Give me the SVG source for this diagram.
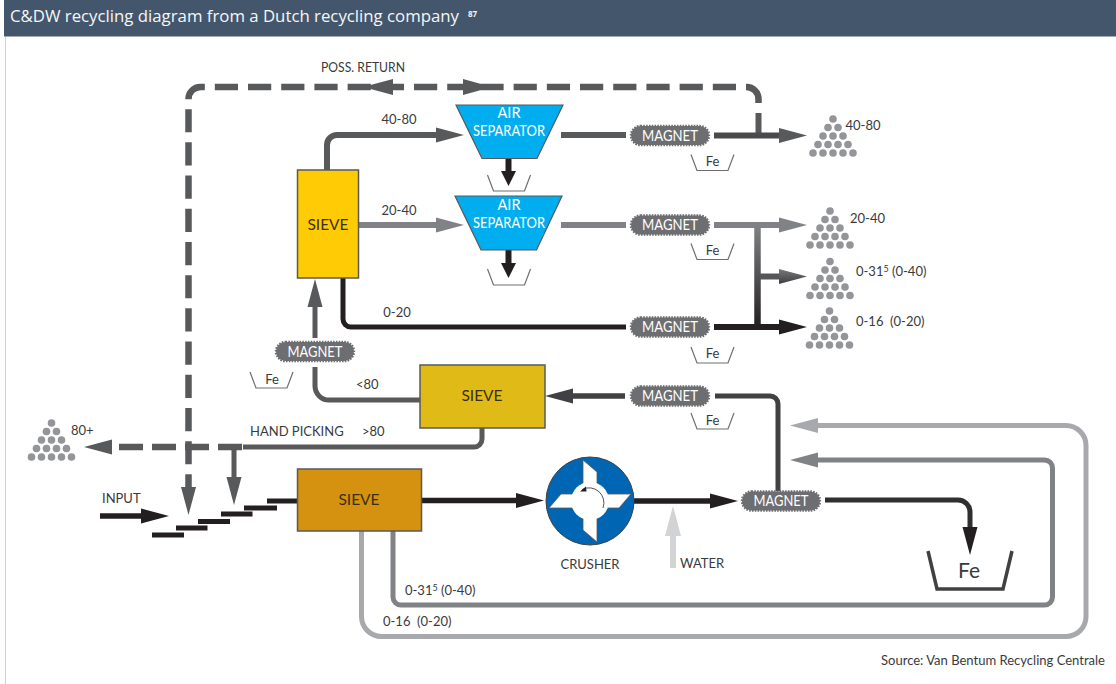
<svg xmlns="http://www.w3.org/2000/svg" width="1116" height="684" viewBox="0 0 1116 684">
<style>
text{font-family:"Lato","Open Sans","Liberation Sans",sans-serif;font-size:13px;fill:#3a3a3c}
.c{text-anchor:middle}
.w{fill:#fff}
.big{font-size:15.5px;fill:#3a3010}
.tall{font-size:14.5px;fill:#fff;text-anchor:middle}
.title{font-family:"Open Sans","Liberation Sans",sans-serif;font-size:17px;fill:#f4f6f8}
.ln{fill:none;stroke-linecap:butt;stroke-linejoin:round}
.mag{fill:#6d6e71;stroke:#6d6e71;stroke-width:2.4;stroke-dasharray:1.6 1.2}
.bin{fill:none;stroke:#6d6e71;stroke-width:1.2}
.box{stroke:#58595b;stroke-width:1.5}
.air{fill:#00aeef;stroke:#58595b;stroke-width:1.2}
.step{fill:#231f20}
</style>
<defs>
<marker id="hA" markerUnits="userSpaceOnUse" markerWidth="30" markerHeight="16" refX="0" refY="8" orient="auto"><path d="M0,0.5L28,8L0,15.5Z" fill="#58595b"/></marker>
<marker id="hB" markerUnits="userSpaceOnUse" markerWidth="30" markerHeight="16" refX="0" refY="8" orient="auto"><path d="M0,0.5L28,8L0,15.5Z" fill="#808285"/></marker>
<marker id="hK" markerUnits="userSpaceOnUse" markerWidth="30" markerHeight="16" refX="0" refY="8" orient="auto"><path d="M0,0.5L28,8L0,15.5Z" fill="#231f20"/></marker>
<marker id="hD" markerUnits="userSpaceOnUse" markerWidth="30" markerHeight="16" refX="0" refY="8" orient="auto"><path d="M0,0.5L28,8L0,15.5Z" fill="#414042"/></marker>
<marker id="hL" markerUnits="userSpaceOnUse" markerWidth="30" markerHeight="16" refX="0" refY="8" orient="auto"><path d="M0,0.5L28,8L0,15.5Z" fill="#a7a9ac"/></marker>
<marker id="hW" markerUnits="userSpaceOnUse" markerWidth="32" markerHeight="18" refX="0" refY="9" orient="auto"><path d="M0,1L30,9L0,17Z" fill="#d1d3d4"/></marker>
<marker id="hG" markerUnits="userSpaceOnUse" markerWidth="30" markerHeight="16" refX="0" refY="8" orient="auto"><path d="M0,0.5L28,8L0,15.5Z" fill="url(#gh)"/></marker>
<linearGradient id="gv" gradientUnits="userSpaceOnUse" x1="0" y1="225" x2="0" y2="327"><stop offset="0" stop-color="#808285"/><stop offset="1" stop-color="#231f20"/></linearGradient>
<linearGradient id="gh" x1="0" y1="0" x2="0" y2="1"><stop offset="0" stop-color="#77787b"/><stop offset="1" stop-color="#3f3f41"/></linearGradient>
<g id="pile" fill="#939598">
<circle cx="0" cy="0" r="3.8"/>
<circle cx="-5" cy="8.5" r="3.8"/><circle cx="5" cy="8.5" r="3.8"/>
<circle cx="-10" cy="17" r="3.8"/><circle cx="0" cy="17" r="3.8"/><circle cx="10" cy="17" r="3.8"/>
<circle cx="-15" cy="25.5" r="3.8"/><circle cx="-5" cy="25.5" r="3.8"/><circle cx="5" cy="25.5" r="3.8"/><circle cx="15" cy="25.5" r="3.8"/>
<circle cx="-20" cy="34" r="3.8"/><circle cx="-10" cy="34" r="3.8"/><circle cx="0" cy="34" r="3.8"/><circle cx="10" cy="34" r="3.8"/><circle cx="20" cy="34" r="3.8"/>
</g>
<path id="smallbin" class="bin" d="M0,0L6,16H37L43,0"/>
</defs>

<rect x="0" y="0" width="1116" height="684" fill="#fff"/>
<g id="header">
<rect x="4" y="0" width="1112" height="36.5" fill="#44566c"/>
<line x1="5.5" y1="37" x2="5.5" y2="684" stroke="#cfcfcf" stroke-width="1"/>
<text class="title" x="10" y="22" textLength="449" lengthAdjust="spacingAndGlyphs">C&amp;DW recycling diagram from a Dutch recycling company</text>
<text class="title" x="468" y="17" style="font-size:8px;font-weight:bold">87</text>
</g>

<g id="connectors" class="ln">
<path d="M758.500,103V99A12,12 0 0 0 746.500,87H200.500A12,12 0 0 0 188.500,99V487" stroke="#58595b" stroke-width="6.500" stroke-dasharray="23.2 10" marker-end="url(#hA)"/>
<path d="M363,87L393,79V95Z" fill="#58595b" stroke="none"/>
<path d="M492,87L463,79V95Z" fill="#58595b" stroke="none"/>
<path d="M758.500,113V135" stroke="#58595b" stroke-width="6"/>
<path d="M327,170V145A10,10 0 0 1 337,135H436" stroke="#58595b" stroke-width="6" marker-end="url(#hA)"/>
<path d="M358,225H436" stroke="#808285" stroke-width="6" marker-end="url(#hB)"/>
<path d="M343,278V319A8,8 0 0 0 351,327H626" stroke="#231f20" stroke-width="5"/>
<path d="M508.500,158V172" stroke="#231f20" stroke-width="6"/>
<path d="M508.500,250V264" stroke="#231f20" stroke-width="6"/>
<path d="M501,171H516L508.500,186Z" fill="#231f20" stroke="none"/>
<path d="M501,263H516L508.500,278Z" fill="#231f20" stroke="none"/>
<path d="M561,135H626" stroke="#58595b" stroke-width="6"/>
<path d="M714,135.500H779" stroke="#4a4a4c" stroke-width="6" marker-end="url(#hA)"/>
<path d="M561,225H626" stroke="#808285" stroke-width="6"/>
<path d="M714,225H779" stroke="#808285" stroke-width="6" marker-end="url(#hB)"/>
<path d="M714,327H779" stroke="#231f20" stroke-width="6" marker-end="url(#hK)"/>
<path d="M757.500,223V329" stroke="url(#gv)" stroke-width="6.500"/>
<path d="M760,276.500H779" stroke="#555658" stroke-width="6" marker-end="url(#hG)"/>
<path d="M625,396H573" stroke="#414042" stroke-width="5.500" marker-end="url(#hD)"/>
<path d="M715,396H770A8,8 0 0 1 778,404V491" stroke="#414042" stroke-width="5"/>
<path d="M420,400H329A14,14 0 0 1 315,386V367" stroke="#58595b" stroke-width="5"/>
<path d="M315,338V307" stroke="#58595b" stroke-width="5"/>
<path d="M307.500,307H322.500L315,279Z" fill="#58595b" stroke="none"/>
<path d="M482,428V439A8,8 0 0 1 474,447H243" stroke="#58595b" stroke-width="5"/>
<path d="M242,447H112" stroke="#58595b" stroke-width="6.500" stroke-dasharray="24 9" marker-end="url(#hA)"/>
<path d="M234,447V477" stroke="#58595b" stroke-width="5" marker-end="url(#hA)"/>
<path d="M100,516H141" stroke="#231f20" stroke-width="5.500" marker-end="url(#hK)"/>
<path d="M421,500.500H516" stroke="#231f20" stroke-width="5.500" marker-end="url(#hK)"/>
<path d="M634,501H710" stroke="#231f20" stroke-width="5.500" marker-end="url(#hK)"/>
<path d="M673,568V536" stroke="#d1d3d4" stroke-width="6" marker-end="url(#hW)"/>
<path d="M825,500H958A12,12 0 0 1 970,512V527" stroke="#2f2f31" stroke-width="5" marker-end="url(#hK)"/>
<path d="M393,531V597A8,8 0 0 0 401,605H1044.500A8,8 0 0 0 1052.500,597V468A8,8 0 0 0 1044.500,460H818" stroke="#808285" stroke-width="5" marker-end="url(#hB)"/>
<path d="M361.500,531V616.500A20,20 0 0 0 381.500,636.500H1066A20,20 0 0 0 1086,616.500V445.500A20,20 0 0 0 1066,425.500H818" stroke="#a7a9ac" stroke-width="5" marker-end="url(#hL)"/>
</g>

<g id="steps">
<rect class="step" x="152" y="532.500" width="32" height="5"/>
<rect class="step" x="176" y="525.500" width="31.500" height="5"/>
<rect class="step" x="198" y="519" width="32" height="5"/>
<rect class="step" x="221" y="511.500" width="31.500" height="5"/>
<rect class="step" x="244" y="505.500" width="33" height="5"/>
<rect class="step" x="267" y="498.500" width="30" height="5"/>
</g>

<g id="sieve-top"><rect class="box" x="297.500" y="170" width="61" height="108" fill="#ffcb05"/><text class="c big" x="328" y="229.500">SIEVE</text></g>
<g id="sieve-mid"><rect class="box" x="420" y="365" width="125" height="63" fill="#e0ba16"/><text class="c big" x="482" y="401">SIEVE</text></g>
<g id="sieve-bottom"><rect class="box" x="297.500" y="469" width="124" height="62" fill="#d59211"/><text class="c big" x="359" y="505">SIEVE</text></g>

<g id="air-separator-1"><path class="air" d="M456,105H563L537,158.500H482Z"/><text class="tall" x="509" y="118">AIR</text><text class="tall" x="509" y="136" textLength="72" lengthAdjust="spacingAndGlyphs">SEPARATOR</text></g>
<g id="air-separator-2"><path class="air" d="M455,196H562L536.500,250H481Z"/><text class="tall" x="509" y="210">AIR</text><text class="tall" x="509" y="228" textLength="72" lengthAdjust="spacingAndGlyphs">SEPARATOR</text></g>
<g id="air-bin-1"><use href="#smallbin" x="487.500" y="175"/></g>
<g id="air-bin-2"><use href="#smallbin" x="487.500" y="269"/></g>

<g id="magnet-1"><rect class="mag" x="631" y="126" width="78" height="19" rx="9.500"/><text class="tall" x="670" y="140.500" textLength="56" lengthAdjust="spacingAndGlyphs">MAGNET</text></g>
<g id="magnet-2"><rect class="mag" x="631" y="215.500" width="78" height="19" rx="9.500"/><text class="tall" x="670" y="230" textLength="56" lengthAdjust="spacingAndGlyphs">MAGNET</text></g>
<g id="magnet-3"><rect class="mag" x="631" y="317.500" width="78" height="19" rx="9.500"/><text class="tall" x="670" y="332" textLength="56" lengthAdjust="spacingAndGlyphs">MAGNET</text></g>
<g id="magnet-4"><rect class="mag" x="631" y="386.500" width="78" height="19" rx="9.500"/><text class="tall" x="670" y="401" textLength="56" lengthAdjust="spacingAndGlyphs">MAGNET</text></g>
<g id="magnet-5"><rect class="mag" x="276" y="342" width="78" height="19" rx="9.500"/><text class="tall" x="315" y="356.500" textLength="55" lengthAdjust="spacingAndGlyphs">MAGNET</text></g>
<g id="magnet-6"><rect class="mag" x="742" y="491.500" width="78" height="19" rx="9.500"/><text class="tall" x="781" y="506" textLength="55" lengthAdjust="spacingAndGlyphs">MAGNET</text></g>

<g id="fe-bin-1"><use href="#smallbin" x="691" y="154.500"/><text class="c" x="712.500" y="166">Fe</text></g>
<g id="fe-bin-2"><use href="#smallbin" x="691" y="243.500"/><text class="c" x="712.500" y="255">Fe</text></g>
<g id="fe-bin-3"><use href="#smallbin" x="691" y="347"/><text class="c" x="712.500" y="358">Fe</text></g>
<g id="fe-bin-4"><use href="#smallbin" x="691" y="413"/><text class="c" x="712.500" y="424.500">Fe</text></g>
<g id="fe-bin-5"><use href="#smallbin" x="250" y="372"/><text class="c" x="272" y="383.500">Fe</text></g>
<g id="fe-bin-main"><path d="M928,551L937,589H1003L1012,551" fill="none" stroke="#414042" stroke-width="3.500"/><text class="c" x="969" y="578" style="font-size:21px">Fe</text></g>

<g id="crusher">
<circle cx="590" cy="501" r="44" fill="#0066b3" stroke="#414042" stroke-width="1"/>
<g fill="#fff" stroke="#58595b" stroke-width="0.800">
<path d="M583,460L597,472V489L583,484Z"/>
<path d="M631,494L619,508H602L607,494Z"/>
<path d="M597,542L583,530V513L597,518Z"/>
<path d="M549,508L561,494H578L573,508Z"/>
</g>
<circle cx="590" cy="501" r="19" fill="#fff"/>
<path d="M582,489.500A15,15 0 0 1 603,508" fill="none" stroke="#414042" stroke-width="0.900"/>
<path d="M580,491.500L586,486.500L586.500,491.500Z" fill="#231f20"/>
<text class="c" x="590" y="569">CRUSHER</text>
</g>

<g id="pile-40-80"><use href="#pile" x="833" y="119"/><text x="845.500" y="130">40-80</text></g>
<g id="pile-20-40"><use href="#pile" x="830" y="211"/><text x="850" y="223">20-40</text></g>
<g id="pile-0-31"><use href="#pile" x="830" y="261.500"/><text x="856" y="276">0-31<tspan dy="-4" style="font-size:9px">5</tspan><tspan dy="4"> (0-40)</tspan></text></g>
<g id="pile-0-16"><use href="#pile" x="829.500" y="311"/><text x="856" y="326">0-16&#160; (0-20)</text></g>
<g id="pile-80"><use href="#pile" x="51.500" y="423"/><text x="71" y="435">80+</text></g>

<g id="labels">
<text x="321" y="72" textLength="84" lengthAdjust="spacingAndGlyphs">POSS. RETURN</text>
<text class="c" x="399" y="124">40-80</text>
<text class="c" x="399" y="215">20-40</text>
<text class="c" x="397" y="317">0-20</text>
<text x="356" y="389">&lt;80</text>
<text x="250" y="436">HAND PICKING</text>
<text x="362" y="436">&gt;80</text>
<text x="102" y="503">INPUT</text>
<text x="680" y="568">WATER</text>
<text x="405" y="595">0-31<tspan dy="-4" style="font-size:9px">5</tspan><tspan dy="4"> (0-40)</tspan></text>
<text x="383" y="626">0-16&#160; (0-20)</text>
<text x="1105" y="665" style="text-anchor:end" textLength="224" lengthAdjust="spacingAndGlyphs">Source: Van Bentum Recycling Centrale</text>
</g>
</svg>
